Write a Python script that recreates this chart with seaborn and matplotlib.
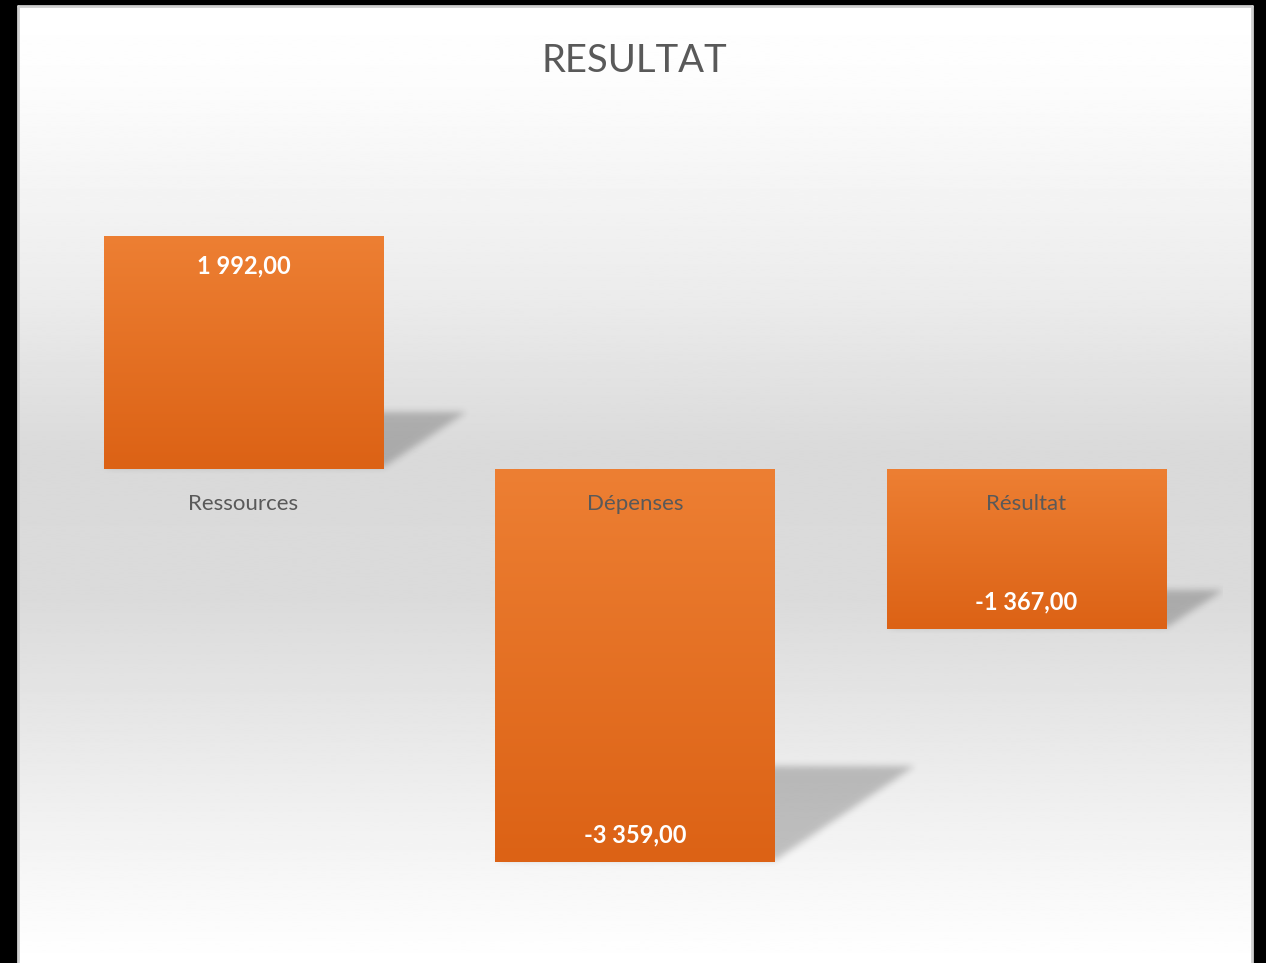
import numpy as np
import pandas as pd
import matplotlib
matplotlib.use("Agg")
import matplotlib.pyplot as plt
import seaborn as sns
from matplotlib.lines import Line2D
from matplotlib.path import Path

# ---------------- data ----------------
categories = ["Ressources", "Dépenses", "Résultat"]
values = [1992.00, -3359.00, -1367.00]
value_labels = ["1 992,00", "-3 359,00", "-1 367,00"]
title = "RESULTAT"

# ---------------- style ----------------
sns.set_theme(style="white")
plt.rcParams['font.family'] = ['Lato', 'DejaVu Sans']

W, H = 1266, 963
fig = plt.figure(figsize=(W / 100, H / 100), dpi=100, facecolor='black')

# white panel with vertical gray gradient
pl, pr, pt = 17.5 / W, 1252 / W, 1 - 6 / H
bg = fig.add_axes([pl, 0, pr - pl, pt], zorder=-2)
bg.set_xlim(0, 1); bg.set_ylim(0, 1); bg.axis('off')
stops_pos = [0.0, 0.08, 0.30, 0.47, 0.62, 0.80, 0.93, 1.0]
stops_val = [1.0, 0.99, 0.925, 0.853, 0.858, 0.925, 0.975, 1.0]
yy = np.linspace(0, 1, 600)
grad = np.interp(yy, stops_pos, stops_val)
bg.imshow(grad[:, None], aspect='auto', extent=(0, 1, 0, 1), cmap='gray',
          vmin=0, vmax=1, origin='upper', interpolation='bilinear')
for xs, ys in [([0, 0], [0, 1]), ([1, 1], [0, 1]), ([0, 1], [1, 1])]:
    bg.add_line(Line2D(xs, ys, color='#cfcfcf', lw=2, transform=bg.transAxes,
                       clip_on=False))

# main axes
ax = fig.add_axes([47.75 / W, 1 - 937 / H, 1174.5 / W, 819 / H], zorder=0)
ax.set_facecolor('none')
df = pd.DataFrame({"cat": categories, "val": values})
sns.barplot(data=df, x="cat", y="val", ax=ax, color="#E8762D", width=0.713,
            saturation=1, linewidth=0, zorder=2)
ax.set_ylim(-4000, 3000)
ax.set_xlim(-0.5, 2.5)
xlim, ylim = ax.get_xlim(), ax.get_ylim()

# gradient fills on bars
top_c = np.array([237, 127, 51]) / 255
bot_c = np.array([220, 98, 21]) / 255
t = np.linspace(0, 1, 256)[:, None]
gcol = (top_c[None, :] * (1 - t) + bot_c[None, :] * t)[:, None, :]
for p in ax.patches:
    x0, y0 = p.get_x(), p.get_y()
    w, h = p.get_width(), p.get_height()
    ylo, yhi = min(y0, y0 + h), max(y0, y0 + h)
    im = ax.imshow(gcol, aspect='auto', extent=(x0, x0 + w, ylo, yhi),
                   origin='upper', zorder=2.1, interpolation='bilinear')
    im.set_clip_path(p)

# perspective shadows (blurred), in axes pixel grid
fig.canvas.draw()
bbox = ax.get_window_extent()
aw, ah = int(round(bbox.width)), int(round(bbox.height))
gx, gy = np.meshgrid(np.arange(aw) + 0.5, np.arange(ah) + 0.5)
pts = np.column_stack([gx.ravel(), gy.ravel()])
mask = np.zeros(aw * ah)
for p in ax.patches:
    x0, y0 = p.get_x(), p.get_y()
    w, h = p.get_width(), p.get_height()
    ylo = min(y0, y0 + h)
    (px0, pyb), (px1, pyt) = ax.transData.transform([(x0, ylo), (x0 + w, ylo + abs(h))])
    px0 -= bbox.x0; px1 -= bbox.x0; pyb -= bbox.y0; pyt -= bbox.y0
    hs = 0.245 * (pyt - pyb)
    sh = 1.45 * hs
    poly = Path([(px0, pyb + 2), (px1, pyb + 2), (px1 + sh, pyb + hs),
                 (px0 + sh, pyb + hs), (px0, pyb + 2)])
    mask = np.maximum(mask, poly.contains_points(pts).astype(float))
mask = mask.reshape(ah, aw)
sig = 3.5
kx = np.arange(-12, 13)
k = np.exp(-kx ** 2 / (2 * sig ** 2)); k /= k.sum()
mask = np.apply_along_axis(lambda r: np.convolve(r, k, mode='same'), 1, mask)
mask = np.apply_along_axis(lambda c: np.convolve(c, k, mode='same'), 0, mask)
rgba = np.zeros((ah, aw, 4))
rgba[..., 3] = mask * 0.22
ax.imshow(rgba, aspect='auto', extent=(xlim[0], xlim[1], ylim[0], ylim[1]),
          origin='lower', zorder=1.5, interpolation='bilinear')
ax.set_xlim(xlim); ax.set_ylim(ylim)

# value labels (inside end)
for p, v, lab in zip(ax.patches, values, value_labels):
    xc = p.get_x() + p.get_width() / 2
    off = -30 if v >= 0 else 27
    ax.annotate(lab, (xc, v), xytext=(0, off), textcoords='offset pixels',
                ha='center', va='center', color='white', fontsize=17,
                fontweight='bold', zorder=4)

# category labels at zero line
ax.set_axisbelow(False)
ax.spines['bottom'].set_position(('data', 0))
for s in ax.spines.values():
    s.set_visible(False)
ax.set_xlabel(""); ax.set_ylabel("")
ax.set_yticks([])
ax.tick_params(axis='x', length=0, pad=18, labelsize=16, labelcolor='#595959')

# title
fig.text((pl + pr) / 2, 1 - 61 / H, title, ha='center', va='center',
         fontsize=27.5, color='#595959')

fig.savefig("out.png", dpi=100, facecolor='black')
